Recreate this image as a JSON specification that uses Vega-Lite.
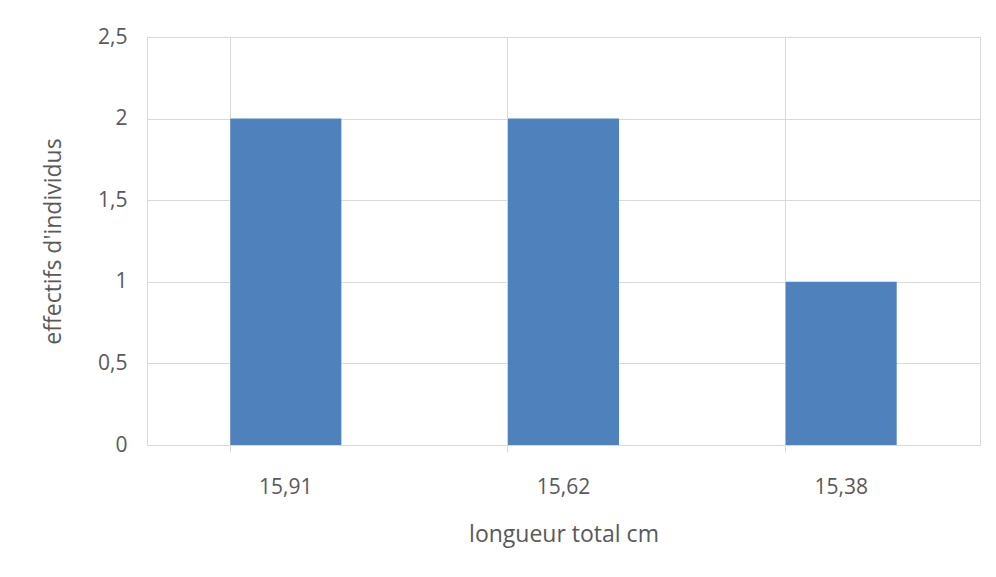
{
  "$schema": "https://vega.github.io/schema/vega-lite/v6.json",
  "width": 833,
  "height": 408,
  "autosize": "none",
  "padding": {"left": 147, "top": 37, "right": 16, "bottom": 132},
  "background": "white",
  "data": {"values": [
    {"longueur": "15,91", "effectif": 2},
    {"longueur": "15,62", "effectif": 2},
    {"longueur": "15,38", "effectif": 1}
  ]},
  "config": {
    "view": {"stroke": "#d9d9d9", "strokeWidth": 1},
    "font": "Open Sans"
  },
  "mark": {"type": "bar", "color": "#4F81BD"},
  "encoding": {
    "x": {
      "field": "longueur",
      "type": "nominal",
      "sort": null,
      "scale": {"paddingInner": 0.6, "paddingOuter": 0.3},
      "axis": {
        "title": "longueur total cm",
        "titleFont": "Open Sans",
        "titleFontSize": 23,
        "titleFontWeight": "normal",
        "titleColor": "#595959",
        "titlePadding": 26,
        "labelAngle": 0,
        "labelFont": "Open Sans",
        "labelFontSize": 21,
        "labelColor": "#595959",
        "labelPadding": 24,
        "bandPosition": 0,
        "grid": true,
        "gridColor": "#d9d9d9",
        "domainColor": "#d9d9d9",
        "tickColor": "#d9d9d9",
        "tickSize": 7
      }
    },
    "y": {
      "field": "effectif",
      "type": "quantitative",
      "scale": {"domain": [0, 2.5], "nice": false},
      "axis": {
        "title": "effectifs d'individus",
        "titleFont": "Open Sans",
        "titleFontSize": 23,
        "titleFontWeight": "normal",
        "titleColor": "#595959",
        "titlePadding": 32,
        "values": [0, 0.5, 1, 1.5, 2, 2.5],
        "labelExpr": "replace(toString(datum.value), '.', ',')",
        "labelFont": "Open Sans",
        "labelFontSize": 21,
        "labelColor": "#595959",
        "labelPadding": 20,
        "ticks": false,
        "domain": false,
        "gridColor": "#d9d9d9"
      }
    }
  }
}
